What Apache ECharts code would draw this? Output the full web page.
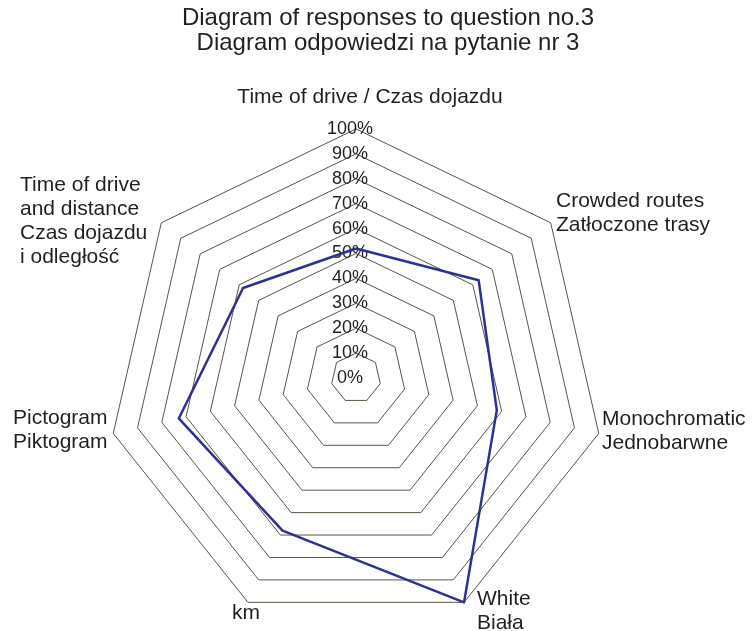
<!DOCTYPE html>
<html><head><meta charset="utf-8">
<script src="https://cdn.jsdelivr.net/npm/echarts@6/dist/echarts.min.js"></script>
<style>html,body{margin:0;padding:0;background:#fff}#c{width:755px;height:631px}</style>
</head><body><div id="c"></div>
<script>
// Categories in clockwise order starting from the top
const categories = [
  "Time of drive / Czas dojazdu",
  "Crowded routes\nZatłoczone trasy",
  "Monochromatic\nJednobarwne",
  "White\nBiała",
  "km",
  "Pictogram\nPiktogram",
  "Time of drive\nand distance\nCzas dojazdu\ni odległość"
];
const values = [52, 63, 58, 100, 68, 73, 58];
const tickLabels = ["0%","10%","20%","30%","40%","50%","60%","70%","80%","90%","100%"];
const titleLines = ["Diagram of responses to question no.3", "Diagram odpowiedzi na pytanie nr 3"];

const FONT = "'Liberation Sans', Arial, sans-serif";
const TEXT = "#231f20";

// ECharts places indicators counter-clockwise; reorder to get clockwise layout
const order = [0, 6, 5, 4, 3, 2, 1];
const indicator = order.map((i, k) => {
  const o = { name: categories[i], min: 0, max: 100 };
  if (k === 0) {
    o.axisLabel = {
      show: true,
      formatter: v => tickLabels[Math.round(v / 10)],
      color: TEXT, fontSize: 18, fontFamily: FONT,
      margin: 0, align: 'center', verticalAlign: 'middle',
      padding: [0, 12, 15, 0]
    };
  }
  return o;
});
const seriesValues = order.map(i => values[i]);

// Axis name labels (text only)
const nameLayout = [
  { x: 370, y: 85, align: 'center' },
  { x: 556, y: 189, align: 'left' },
  { x: 602, y: 407, align: 'left' },
  { x: 477, y: 587, align: 'left' },
  { x: 246, y: 601, align: 'center' },
  { x: 13, y: 406, align: 'left' },
  { x: 20, y: 173, align: 'left' }
];
const graphics = categories.map((c, i) => ({
  type: 'text',
  x: nameLayout[i].x, y: nameLayout[i].y,
  style: {
    text: c, fill: TEXT, font: '21px ' + FONT, lineHeight: 24,
    textAlign: nameLayout[i].align, textVerticalAlign: 'top'
  }
}));
graphics.push({
  type: 'text', x: 388, y: 6,
  style: { text: titleLines.join('\n'), fill: TEXT, font: '24px ' + FONT, lineHeight: 25,
    textAlign: 'center', textVerticalAlign: 'top' }
});

const chart = echarts.init(document.getElementById('c'), null, { renderer: 'canvas' });
chart.setOption({
  backgroundColor: '#ffffff',
  animation: false,
  graphic: graphics,
  radar: {
    center: [356, 378],
    radius: 249,
    startAngle: 90,
    splitNumber: 10,
    shape: 'polygon',
    indicator: indicator,
    axisName: { show: false },
    axisLine: { show: false },
    axisTick: { show: false },
    splitArea: { show: false },
    splitLine: { lineStyle: { color: '#5a5544', width: 1 } }
  },
  series: [{
    type: 'radar',
    symbol: 'none',
    lineStyle: { color: '#2e3192', width: 2.5 },
    data: [{ value: seriesValues, name: 'Responses' }]
  }]
});
</script>
</body></html>
